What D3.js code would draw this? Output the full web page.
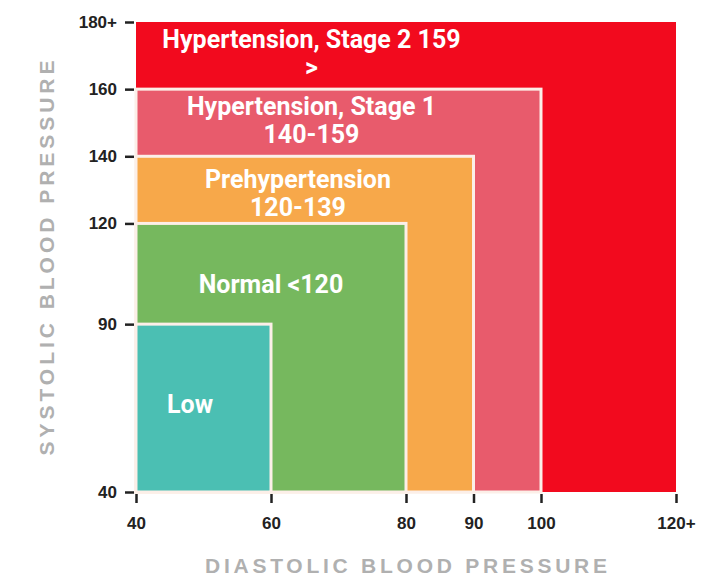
<!DOCTYPE html>
<html>
<head>
<meta charset="utf-8">
<script src="https://cdn.jsdelivr.net/npm/d3@7"></script>
<style>
  body { margin: 0; background: #fff; }
  svg { display: block; }
</style>
</head>
<body>
<svg id="chart" width="707" height="579"></svg>
<script>
// zones, outermost first: [diastolic max, systolic max]
const zoneNames = ['Stage 2', 'Stage 1', 'Prehypertension', 'Normal', 'Low'];
const zoneDiastolic = [120, 100, 90, 80, 60];
const zoneSystolic = [180, 160, 140, 120, 90];
const zoneColors = ['#f20a1e', '#e85b6c', '#f7a84a', '#76b85e', '#4bbfb3'];

// label text per zone (one entry per line)
const zoneLabels = [
    ['Hypertension, Stage 2 159', '>'],
    ['Hypertension, Stage 1', '140-159'],
    ['Prehypertension', '120-139'],
    ['Normal <120'],
    ['Low']
];
// where each label sits, in chart units (diastolic centre, systolic of first baseline)
const labelDiastolic = [66, 66, 64, 60, 48];
const labelSystolic = [172.3, 152.3, 130.6, 99.3, 63.5];

const xTicks = [40, 60, 80, 90, 100, 120];
const yTicks = [40, 90, 120, 140, 160, 180];

const svg = d3.select('#chart');

//Scales
const x = d3.scaleLinear().domain([40, 120]).range([136, 676]);
const y = d3.scaleLinear().domain([40, 180]).range([492, 22]);

// zone rects
svg.append('g')
    .selectAll('rect')
    .data(zoneNames)
    .join('rect')
    .attr('x', x(40))
    .attr('y', (d, i) => y(zoneSystolic[i]))
    .attr('width', (d, i) => x(zoneDiastolic[i]) - x(40))
    .attr('height', (d, i) => y(40) - y(zoneSystolic[i]))
    .attr('fill', (d, i) => zoneColors[i])
    .attr('stroke', (d, i) => i == 0 ? 'none' : '#fcefe8')
    .attr('stroke-width', 3);

// labels
const lineHeight = 28;
const labels = svg.append('g')
    .attr('font-family', 'Roboto, sans-serif')
    .attr('font-weight', 700)
    .attr('font-size', 25)
    .attr('fill', '#fff')
    .attr('text-anchor', 'middle');

zoneLabels.forEach((lines, i) => {
    lines.forEach((line, j) => {
        labels.append('text')
            .attr('x', x(labelDiastolic[i]))
            .attr('y', y(labelSystolic[i]) + j * lineHeight)
            .text(line);
    });
});

//Axes
const yAxis = d3.axisLeft(y)
    .tickValues(yTicks)
    .tickFormat(d => d == 180 ? '180+' : d)
    .tickSize(9)
    .tickPadding(8);

const xAxis = d3.axisBottom(x)
    .tickValues(xTicks)
    .tickFormat(d => d == 120 ? '120+' : d)
    .tickSize(9)
    .tickPadding(14);

const styleAxis = g => {
    g.select('.domain').remove();
    g.selectAll('line').attr('stroke', '#222').attr('stroke-width', 2.5);
    g.selectAll('text')
        .attr('fill', '#222')
        .attr('font-family', 'Arial, "Liberation Sans", sans-serif')
        .attr('font-weight', 700)
        .attr('font-size', 17);
};

svg.append('g')
    .attr('transform', 'translate(134,0)')
    .call(yAxis)
    .call(styleAxis);

svg.append('g')
    .attr('transform', 'translate(0,494)')
    .call(xAxis)
    .call(styleAxis);

// axis titles
svg.append('text')
    .attr('x', 406)
    .attr('y', 573)
    .attr('text-anchor', 'middle')
    .attr('font-family', 'Arial, "Liberation Sans", sans-serif')
    .attr('font-weight', 700)
    .attr('font-size', 21)
    .attr('fill', '#b0b0b0')
    .attr('textLength', 402)
    .attr('lengthAdjust', 'spacing')
    .text('DIASTOLIC BLOOD PRESSURE');

svg.append('text')
    .attr('transform', 'translate(54,258) rotate(-90)')
    .attr('text-anchor', 'middle')
    .attr('font-family', 'Arial, "Liberation Sans", sans-serif')
    .attr('font-weight', 700)
    .attr('font-size', 21)
    .attr('fill', '#b0b0b0')
    .attr('textLength', 395)
    .attr('lengthAdjust', 'spacing')
    .text('SYSTOLIC BLOOD PRESSURE');
</script>
</body>
</html>
